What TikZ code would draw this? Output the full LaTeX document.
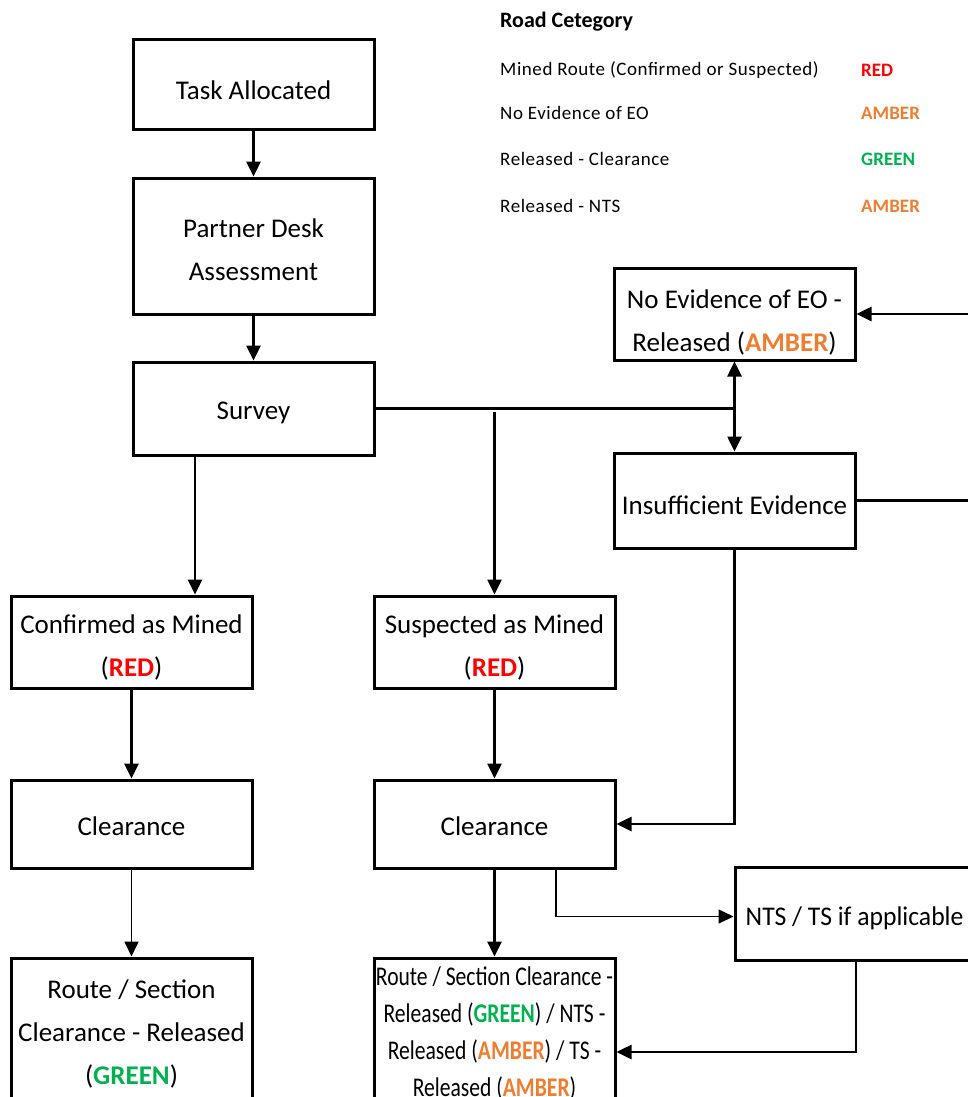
\documentclass[tikz,border=0pt]{standalone}
\usepackage{fontspec}
\setmainfont{Carlito}
\newfontfamily\condfont{Carlito}[FakeStretch=0.8]
\newfontfamily\narrowfont{Carlito}[FakeStretch=0.95]
\newfontfamily\legendfont{Carlito}[LetterSpace=3]
\usetikzlibrary{arrows.meta}
\definecolor{catred}{RGB}{255,0,0}
\definecolor{catamber}{RGB}{237,125,49}
\definecolor{catgreen}{RGB}{0,176,80}
\newcommand{\catRed}{\textcolor{catred}{\textbf{RED}}}
\newcommand{\catAmber}{\textcolor{catamber}{\textbf{AMBER}}}
\newcommand{\catGreen}{\textcolor{catgreen}{\textbf{GREEN}}}
\begin{document}
\begin{tikzpicture}[x=1pt,y=-1pt,
  box/.style={draw, line width=3pt, minimum width=241pt, inner sep=0pt},
  boxtext/.style={inner sep=0pt, align=center, font=\fontsize{27}{43}\selectfont},
  flow/.style={line width=2.6pt, -{Triangle[length=15pt,width=14pt]}},
  thinflow/.style={line width=1.6pt, -{Triangle[length=15pt,width=14pt]}},
  link/.style={line width=2.6pt},
  legtitle/.style={anchor=west, inner sep=0pt, font=\fontsize{22}{26}\selectfont\bfseries},
  legitem/.style={anchor=west, inner sep=0pt, font=\fontsize{19}{23}\legendfont},
  legcol/.style={anchor=west, inner sep=0pt, font=\fontsize{19}{23}\selectfont}
]
\useasboundingbox (0,0) rectangle (968,1097);
\clip (0,0) rectangle (968,1097);

% legend
\node[legtitle] (legt) at (500,22) {Road Cetegory};
\node[legitem] (leg1) at (500,70) {Mined Route (Confirmed or Suspected)};
\node[legitem] (leg2) at (500,113) {No Evidence of EO};
\node[legitem] (leg3) at (500,159) {Released - Clearance};
\node[legitem] (leg4) at (500,206) {Released - NTS};
\node[legcol] (col1) at (861,70) {\catRed};
\node[legcol] (col2) at (861,113) {\catAmber};
\node[legcol] (col3) at (861,159) {\catGreen};
\node[legcol] (col4) at (861,206) {\catAmber};

% process boxes
\node[box, minimum height=90pt] (task) at (253.5,85) {};
\node[box, minimum height=136pt] (desk) at (253.5,246) {};
\node[box, minimum height=93pt] (survey) at (253.5,408.5) {};
\node[box, minimum height=92pt] (noev) at (734.5,314) {};
\node[box, minimum height=95pt] (insuff) at (734.5,500.5) {};
\node[box, minimum height=92pt] (conf) at (131.5,642) {};
\node[box, minimum height=92pt] (susp) at (494.5,642) {};
\node[box, minimum height=88pt] (clearA) at (131.5,824) {};
\node[box, minimum height=88pt] (clearB) at (494.5,824) {};
\node[box, minimum height=93pt, minimum width=265pt] (nts) at (867.5,913.5) {};
\node[box, minimum height=150pt] (routeA) at (131.5,1033) {};
\node[box, minimum height=150pt] (routeB) at (494.5,1033) {};

% box texts
\node[boxtext] (taskT) at ([yshift=-5pt]task.center) {Task Allocated};
\node[boxtext] (deskT) at ([yshift=-4pt]desk.center) {Partner Desk\\Assessment};
\node[boxtext] (surveyT) at ([yshift=-4pt]survey.center) {Survey};
\node[boxtext] (noevT) at ([yshift=-8pt]noev.center) {No Evidence of EO -\\Released (\catAmber)};
\node[boxtext] (insuffT) at ([yshift=-5pt]insuff.center) {Insufficient Evidence};
\node[boxtext] (confT) at ([yshift=-5pt]conf.center) {Confirmed as Mined\\(\catRed)};
\node[boxtext] (suspT) at ([yshift=-5pt]susp.center) {Suspected as Mined\\(\catRed)};
\node[boxtext] (clearAT) at ([yshift=-2pt]clearA.center) {Clearance};
\node[boxtext] (clearBT) at ([yshift=-2pt]clearB.center) {Clearance};
\node[boxtext, anchor=west, font=\fontsize{27}{43}\narrowfont] (ntsT)
  at ([xshift=12pt,yshift=-5pt]nts.west) {NTS / TS if applicable};
\node[boxtext] (routeAT) at ([yshift=-1pt]routeA.center) {Route / Section\\Clearance - Released\\(\catGreen)};
\node[boxtext, font=\fontsize{27}{37}\condfont] (routeBT) at (routeB.center)
  {Route / Section Clearance -\\Released (\catGreen) / NTS -\\Released (\catAmber) / TS -\\Released (\catAmber)};

% free ends at the right edge
\coordinate (inA) at (noev.east -| 975,0);
\coordinate (outB) at (insuff.east -| 975,0);

% connectors
\draw[flow] (task) -- (desk);
\draw[flow] (desk) -- (survey);
\coordinate (jn) at (noev.south |- survey.east);
\draw[link] (survey.east) -- (jn);
\draw[flow] (jn) -- (noev.south);
\draw[flow] (jn) -- (insuff.north);
\draw[flow] ([yshift=-3pt]susp.north |- survey.east) -- (susp.north);
\draw[flow] ([xshift=-58.5pt]survey.south) -- ([xshift=-58.5pt]survey.south |- conf.north);
\draw[flow] (inA) -- (noev.east);
\draw[link] (insuff.east) -- (outB);
\draw[flow] (conf) -- (clearA);
\draw[flow] (susp) -- (clearB);
\draw[thinflow] (clearA) -- (routeA);
\draw[flow] (clearB) -- (routeB);
\draw[flow] (insuff.south) |- (clearB.east);
\draw[thinflow] ([xshift=61.5pt]clearB.south) |- ([yshift=-3pt]nts.west);
\draw[flow] ([xshift=-11.5pt]nts.south) |- ([yshift=-19pt]routeB.east);
\end{tikzpicture}
\end{document}
